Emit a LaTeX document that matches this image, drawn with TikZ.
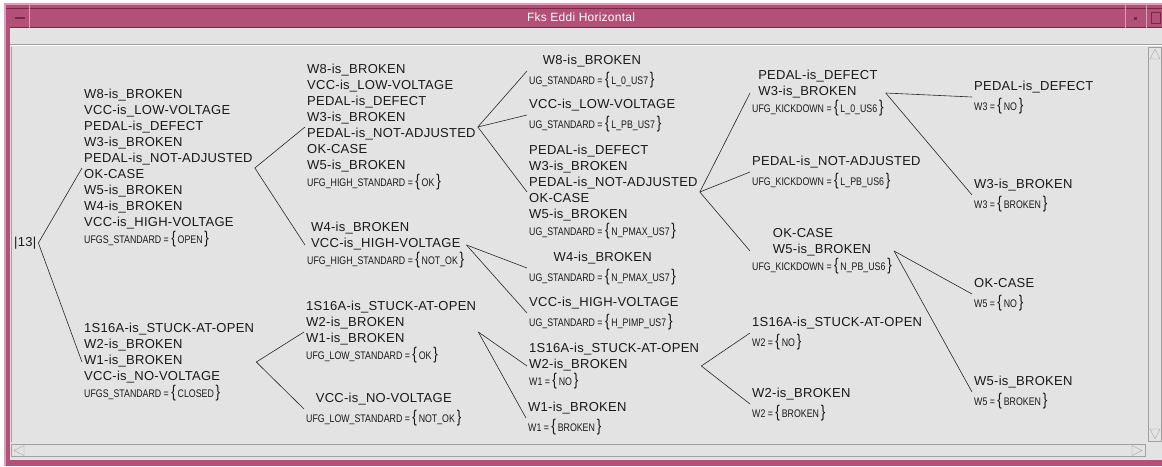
\documentclass[tikz,border=0pt]{standalone}
\usepackage{fontspec}
\setmainfont{Liberation Sans}[LetterSpace=2]
\newfontfamily\attrfont[FakeStretch=0.8]{Liberation Sans}

\definecolor{titlepink}{RGB}{178,80,120}
\definecolor{darkpink}{RGB}{120,40,75}
\definecolor{lightpink}{RGB}{215,160,185}
\definecolor{panel}{RGB}{227,227,227}
\definecolor{edgegray}{RGB}{160,160,160}

\newcommand\treefont{\fontsize{13}{16}\selectfont}
\newcommand\attr[2]{{\attrfont\fontsize{11}{16}\selectfont #1 = {\fontsize{17}{16}\selectfont\{}\,#2\,{\fontsize{17}{16}\selectfont\}}}}
\newcommand\leaf[3]{\begin{tabular}{@{}l@{}}\hfil\begin{tabular}{@{}l@{}}#1\end{tabular}\\[3pt]\attr{#2}{#3}\end{tabular}}

\begin{document}
\begin{tikzpicture}[%
    x=1pt,
    y=-1pt,
    fact/.style={%
      anchor=west,
      inner xsep=2pt,
      inner ysep=0pt,
      font=\treefont,
      text=black!90
    },
    every edge/.style={draw=black!85, line width=0.6pt}
  ]
  \useasboundingbox (0,0) rectangle (1162,466);
  % Window:
    \fill[lightpink] (4,3) rectangle (1162,466);
    \fill[titlepink] (6,5) rectangle (1162,466);
    \fill[panel] (10,28) rectangle (1162,460);
    \draw[darkpink] (6,8.5) -- (1162,8.5);
    \draw[darkpink] (10,27.5) -- (1162,27.5);
    \draw[lightpink] (29.5,5) -- (29.5,28) (1125.5,5) -- (1125.5,28) (1146.5,5) -- (1146.5,28);
    \fill[darkpink] (15,17) rectangle (25,19);
    \fill[darkpink] (1134,17) rectangle (1137,20);
    \draw[darkpink] (1151.5,12.5) rectangle (1160.5,23.5);
    \node[font=\fontsize{12}{14}\selectfont, text=white] (title) at (581,17) {Fks Eddi Horizontal};
    \draw[edgegray] (10,44.5) -- (1162,44.5);
    \draw[white] (10,45.5) -- (1162,45.5);
    \draw[edgegray] (11.5,46.5) -- (11.5,441.5);
    \draw[edgegray] (1148.5,47.5) rectangle (1161.5,441.5);
    \draw[edgegray, fill=panel] (1150,59) -- (1160,59) -- (1155,49) -- cycle;
    \draw[edgegray, fill=panel] (1150,429) -- (1160,429) -- (1155,439) -- cycle;
    \draw[edgegray] (11.5,444.5) rectangle (1145.5,456.5);
    \draw[edgegray] (24,445.5) -- (24,455.5) -- (14,450.5) -- cycle;
    \draw[edgegray] (1132,445.5) -- (1132,455.5) -- (1142,450.5) -- cycle;
  % Nodes:
    \node[fact] (R)  at (12,243) {|13|};
    \node[fact] (A1) at (82,168) {\leaf{W8-is\_BROKEN\\VCC-is\_LOW-VOLTAGE\\PEDAL-is\_DEFECT\\W3-is\_BROKEN\\PEDAL-is\_NOT-ADJUSTED\\OK-CASE\\W5-is\_BROKEN\\W4-is\_BROKEN\\VCC-is\_HIGH-VOLTAGE}{UFGS\_STANDARD}{OPEN}};
    \node[fact] (A2) at (82,362) {\leaf{1S16A-is\_STUCK-AT-OPEN\\W2-is\_BROKEN\\W1-is\_BROKEN\\VCC-is\_NO-VOLTAGE}{UFGS\_STANDARD}{CLOSED}};
    \node[fact] (B1) at (305,127) {\leaf{W8-is\_BROKEN\\VCC-is\_LOW-VOLTAGE\\PEDAL-is\_DEFECT\\W3-is\_BROKEN\\PEDAL-is\_NOT-ADJUSTED\\OK-CASE\\W5-is\_BROKEN}{UFG\_HIGH\_STANDARD}{OK}};
    \node[fact] (B2) at (305,245) {\leaf{W4-is\_BROKEN\\VCC-is\_HIGH-VOLTAGE}{UFG\_HIGH\_STANDARD}{NOT\_OK}};
    \node[fact] (B3) at (304,332) {\leaf{1S16A-is\_STUCK-AT-OPEN\\W2-is\_BROKEN\\W1-is\_BROKEN}{UFG\_LOW\_STANDARD}{OK}};
    \node[fact] (B4) at (304,409) {\leaf{VCC-is\_NO-VOLTAGE}{UFG\_LOW\_STANDARD}{NOT\_OK}};
    \node[fact] (C1) at (527,71)  {\leaf{W8-is\_BROKEN}{UG\_STANDARD}{L\_0\_US7}};
    \node[fact] (C2) at (527,115) {\leaf{VCC-is\_LOW-VOLTAGE}{UG\_STANDARD}{L\_PB\_US7}};
    \node[fact] (C3) at (527,192) {\leaf{PEDAL-is\_DEFECT\\W3-is\_BROKEN\\PEDAL-is\_NOT-ADJUSTED\\OK-CASE\\W5-is\_BROKEN}{UG\_STANDARD}{N\_PMAX\_US7}};
    \node[fact] (C4) at (527,268) {\leaf{W4-is\_BROKEN}{UG\_STANDARD}{N\_PMAX\_US7}};
    \node[fact] (C5) at (527,313) {\leaf{VCC-is\_HIGH-VOLTAGE}{UG\_STANDARD}{H\_PIMP\_US7}};
    \node[fact] (C6) at (527,366) {\leaf{1S16A-is\_STUCK-AT-OPEN\\W2-is\_BROKEN}{W1}{NO}};
    \node[fact] (C7) at (526,418) {\leaf{W1-is\_BROKEN}{W1}{BROKEN}};
    \node[fact] (D1) at (750,93)  {\leaf{PEDAL-is\_DEFECT\\W3-is\_BROKEN}{UFG\_KICKDOWN}{L\_0\_US6}};
    \node[fact] (D2) at (750,172) {\leaf{PEDAL-is\_NOT-ADJUSTED}{UFG\_KICKDOWN}{L\_PB\_US6}};
    \node[fact] (D3) at (750,251) {\leaf{OK-CASE\\W5-is\_BROKEN}{UFG\_KICKDOWN}{N\_PB\_US6}};
    \node[fact] (D4) at (750,333) {\leaf{1S16A-is\_STUCK-AT-OPEN}{W2}{NO}};
    \node[fact] (D5) at (750,404) {\leaf{W2-is\_BROKEN}{W2}{BROKEN}};
    \node[fact] (E1) at (972,97)  {\leaf{PEDAL-is\_DEFECT}{W3}{NO}};
    \node[fact] (E2) at (972,195) {\leaf{W3-is\_BROKEN}{W3}{BROKEN}};
    \node[fact] (E3) at (972,294) {\leaf{OK-CASE}{W5}{NO}};
    \node[fact] (E4) at (972,392) {\leaf{W5-is\_BROKEN}{W5}{BROKEN}};
  % Paths:
    \path (R.east)  edge (A1.west)
          (R.east)  edge (A2.west)
          (A1.east) edge (B1.west)
          (A1.east) edge (B2.west)
          (A2.east) edge (B3.west)
          (A2.east) edge (B4.west)
          (B1.east) edge (C1.west)
          (B1.east) edge (C2.west)
          (B1.east) edge (C3.west)
          (B2.east) edge (C4.west)
          (B2.east) edge (C5.west)
          (B3.east) edge (C6.west)
          (B3.east) edge (C7.west)
          (C3.east) edge (D1.west)
          (C3.east) edge (D2.west)
          (C3.east) edge (D3.west)
          (C6.east) edge (D4.west)
          (C6.east) edge (D5.west)
          (D1.east) edge (E1.west)
          (D1.east) edge (E2.west)
          (D3.east) edge (E3.west)
          (D3.east) edge (E4.west);
\end{tikzpicture}
\end{document}
